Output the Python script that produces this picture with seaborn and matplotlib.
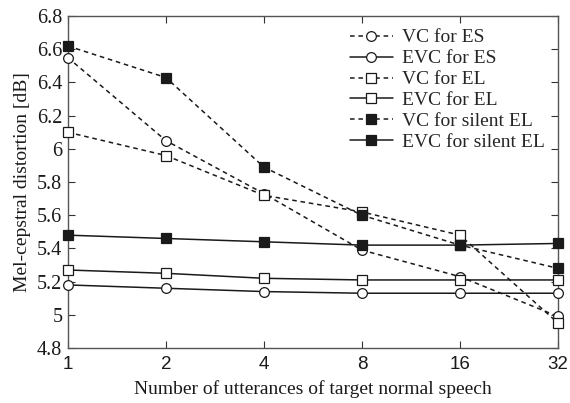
import matplotlib
matplotlib.use("Agg")
import matplotlib.pyplot as plt
import seaborn as sns
import pandas as pd

utterances = [1, 2, 4, 8, 16, 32]
tick_labels = ["1", "2", "4", "8", "16", "32"]
vc_es = [6.55, 6.05, 5.73, 5.39, 5.23, 4.99]
evc_es = [5.18, 5.16, 5.14, 5.13, 5.13, 5.13]
vc_el = [6.10, 5.96, 5.72, 5.62, 5.48, 4.95]
evc_el = [5.27, 5.25, 5.22, 5.21, 5.21, 5.21]
vc_sel = [6.62, 6.43, 5.89, 5.60, 5.42, 5.28]
evc_sel = [5.48, 5.46, 5.44, 5.42, 5.42, 5.43]

series = [
    ("VC for ES", vc_es, "--", "o", "white"),
    ("EVC for ES", evc_es, "-", "o", "white"),
    ("VC for EL", vc_el, "--", "s", "white"),
    ("EVC for EL", evc_el, "-", "s", "white"),
    ("VC for silent EL", vc_sel, "--", "s", "#1a1a1a"),
    ("EVC for silent EL", evc_sel, "-", "s", "#1a1a1a"),
]

sns.set_theme(style="ticks")
plt.rcParams["font.family"] = ["Liberation Serif", "DejaVu Serif"]

fig = plt.figure(figsize=(5.7, 4.03), dpi=100)
ax = fig.add_axes([0.119, 0.1365, 0.86, 0.8235])

for name, vals, ls, mk, fc in series:
    df = pd.DataFrame({"x": utterances, "y": vals})
    sns.lineplot(data=df, x="x", y="y", ax=ax, color="#1a1a1a", linestyle=ls,
                 linewidth=1.1, marker=mk, markersize=7,
                 markerfacecolor=fc, markeredgecolor="#1a1a1a", markeredgewidth=0.9,
                 label=name, clip_on=False, zorder=3)
    if ls == "--":
        ax.lines[-1].set_dashes((3, 2.5))

ax.set_xscale("log", base=2)
ax.set_xlim(1, 32)
ax.set_ylim(4.8, 6.8)
ax.set_xticks(utterances)
ax.set_xticklabels(tick_labels, fontfamily="Liberation Sans", fontsize=13.5)
ax.minorticks_off()
yt = [4.8, 5.0, 5.2, 5.4, 5.6, 5.8, 6.0, 6.2, 6.4, 6.6, 6.8]
ax.set_yticks(yt)
ax.set_yticklabels(["4.8", "5", "5.2", "5.4", "5.6", "5.8", "6", "6.2", "6.4", "6.6", "6.8"], fontsize=14.5)
ax.tick_params(direction="in", top=True, right=True, length=5, width=0.8, colors="#333333", labelcolor="#1a1a1a")
ax.tick_params(axis="x", pad=6)
ax.tick_params(axis="y", pad=4)
for s in ax.spines.values():
    s.set_color("#555555")
    s.set_linewidth(1.0)

ax.set_xlabel("Number of utterances of target normal speech", fontsize=14, labelpad=5, color="#1a1a1a")
ax.set_ylabel("Mel-cepstral distortion [dB]", fontsize=14, labelpad=4, color="#1a1a1a")

leg = ax.legend(loc="upper right", frameon=False, fontsize=14, handlelength=2.2,
                labelspacing=0.17, handletextpad=0.5, borderaxespad=0.0,
                bbox_to_anchor=(0.99, 0.985))

fig.savefig("out.png", dpi=100)
